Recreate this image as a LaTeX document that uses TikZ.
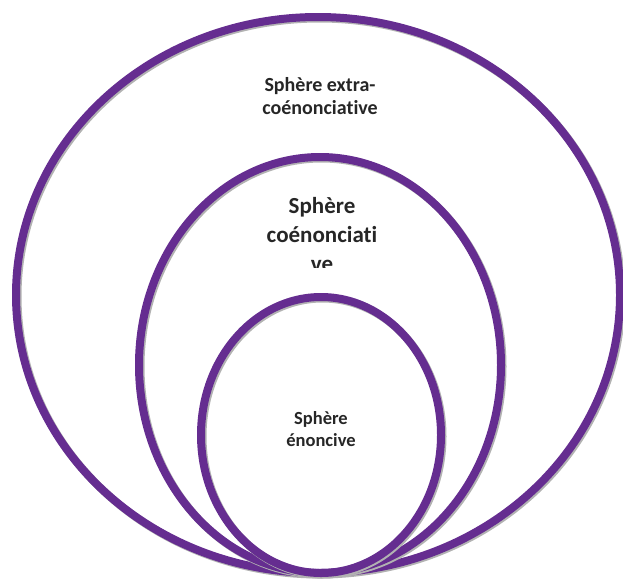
\documentclass[tikz,border=0pt]{standalone}
\usepackage{fontspec}
\setmainfont{Carlito}[Ligatures={NoCommon}]
\definecolor{spherepurple}{HTML}{652D90}
\definecolor{spheretext}{HTML}{262626}
\tikzset{
  sphere/.style={draw=spherepurple, line width=8pt},
  sphereshade/.style={draw=black!30, line width=8pt},
  spherelabel/.style={text=spheretext, align=center, inner sep=0pt}
}
\begin{document}
\begin{tikzpicture}[x=1pt, y=-1pt]
\useasboundingbox (0,0) rectangle (623,579);
% outer sphere
\draw[sphereshade] (319.5,296.5) ellipse [x radius=302, y radius=278];
\draw[sphere] (318,295) ellipse [x radius=302, y radius=278];
% middle sphere
\draw[sphereshade] (321.5,366.5) ellipse [x radius=181, y radius=208];
\draw[sphere] (320,365) ellipse [x radius=181, y radius=208];
% inner sphere
\draw[sphereshade] (322.5,436.5) ellipse [x radius=120, y radius=138];
\draw[sphere] (321,435) ellipse [x radius=120, y radius=138];
% labels
\node[spherelabel, font=\bfseries\fontsize{20}{23}\selectfont] (outerlabel) at (320,96)
  {Sphère extra-\\coénonciative};
\begin{scope}
  \clip (200,150) rectangle (440,267);
  \node[spherelabel, font=\bfseries\fontsize{23}{29}\selectfont, anchor=north] (middlelabel) at (322,197)
    {Sphère\\coénonciati\\ve};
\end{scope}
\node[spherelabel, font=\bfseries\fontsize{18.5}{22}\selectfont] (innerlabel) at (321,429)
  {Sphère\\énoncive};
\end{tikzpicture}
\end{document}
